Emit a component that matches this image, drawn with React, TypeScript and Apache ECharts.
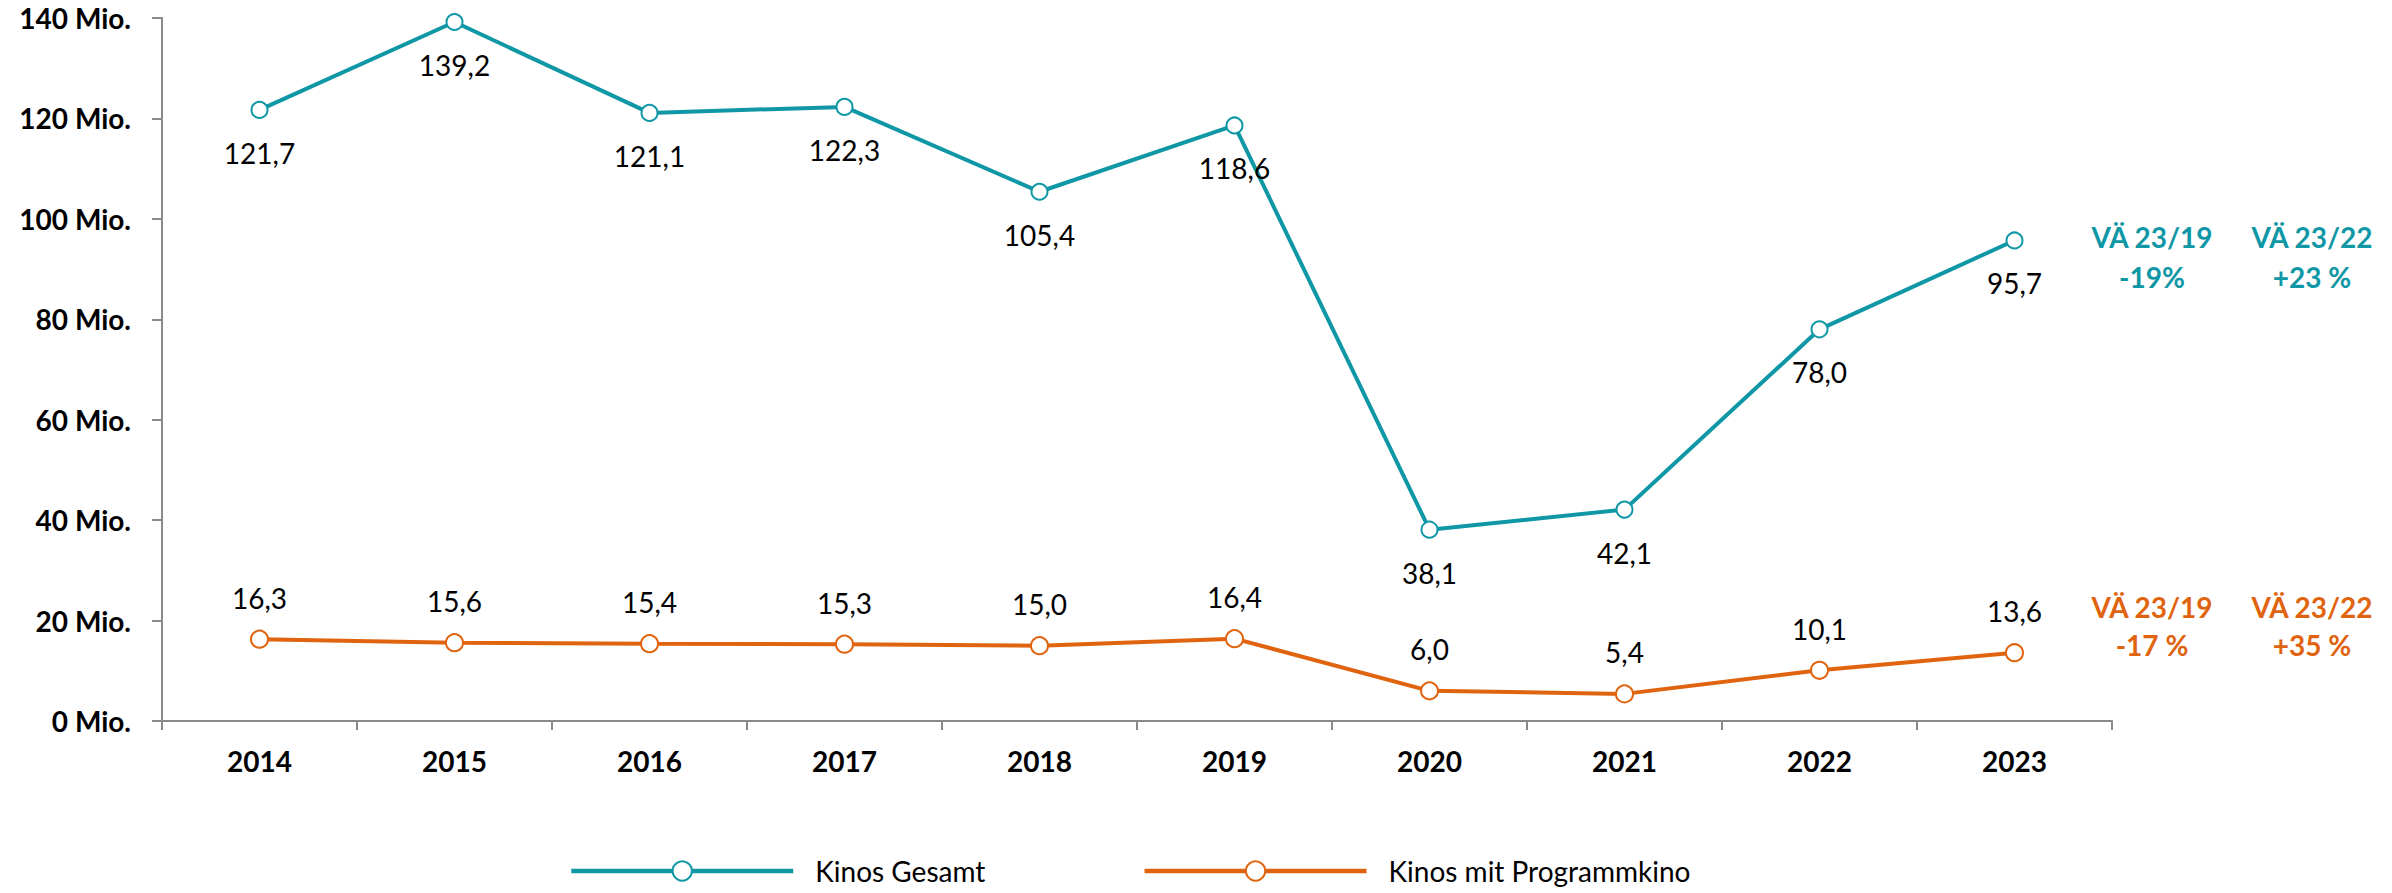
import React, { useEffect, useRef } from "react";
import * as echarts from "echarts";

const years = ["2014", "2015", "2016", "2017", "2018", "2019", "2020", "2021", "2022", "2023"];
const kinosGesamt = [121.7, 139.2, 121.1, 122.3, 105.4, 118.6, 38.1, 42.1, 78.0, 95.7];
const kinosProgramm = [16.3, 15.6, 15.4, 15.3, 15.0, 16.4, 6.0, 5.4, 10.1, 13.6];
const seriesNames = ["Kinos Gesamt", "Kinos mit Programmkino"];
const tealNotes = [
  ["VÄ 23/19", "-19%"],
  ["VÄ 23/22", "+23 %"],
];
const orangeNotes = [
  ["VÄ 23/19", "-17 %"],
  ["VÄ 23/22", "+35 %"],
];

const TEAL = "#0F97A5";
const ORANGE = "#E0640F";
const FONT = "Lato, 'Open Sans', sans-serif";

const fmt = (v: number) => v.toFixed(1).replace(".", ",");

export default function App() {
  const ref = useRef<HTMLDivElement>(null);
  useEffect(() => {
    if (!ref.current) return;
    const chart = echarts.init(ref.current, null, { renderer: "svg" });
    const noteText = (x: number, y: number, lines: string[], color: string, lh: number) => ({
      type: "text",
      x,
      y,
      style: {
        text: lines.join("\n"),
        fill: color,
        font: `bold 28px ${FONT}`,
        textAlign: "center",
        textVerticalAlign: "middle",
        lineHeight: lh,
      },
    });
    chart.setOption({
      animation: false,
      textStyle: { fontFamily: FONT },
      grid: { left: 162, right: 280, top: 18, bottom: 172, containLabel: false },
      legend: {
        bottom: 3,
        left: 564,
        itemWidth: 222,
        itemHeight: 24,
        itemGap: 157,
        lineStyle: { width: 4.5 },
        itemStyle: { borderWidth: 4 },
        textStyle: { fontSize: 28, fontFamily: FONT, color: "inherit", padding: [0, 0, 0, 17] },
        data: seriesNames,
      },
      xAxis: {
        type: "category",
        data: years,
        boundaryGap: true,
        axisLine: { lineStyle: { color: "#8A8A8A", width: 2 } },
        axisTick: { show: true, length: 9, lineStyle: { color: "#8A8A8A", width: 2 } },
        axisLabel: { fontSize: 28, fontWeight: "bold", color: "#000", margin: 26, fontFamily: FONT },
        splitLine: { show: false },
      },
      yAxis: {
        type: "value",
        min: 0,
        max: 140,
        interval: 20,
        axisLine: { show: true, lineStyle: { color: "#8A8A8A", width: 2 } },
        axisTick: { show: true, length: 10, lineStyle: { color: "#8A8A8A", width: 2 } },
        axisLabel: {
          fontSize: 28,
          fontWeight: "bold",
          color: "#000",
          margin: 31,
          fontFamily: FONT,
          formatter: (v: number) => `${v} Mio.`,
        },
        splitLine: { show: false },
      },
      series: [
        {
          name: seriesNames[0],
          type: "line",
          data: kinosGesamt,
          color: TEAL,
          symbol: "emptyCircle",
          symbolSize: 16,
          lineStyle: { width: 4, color: TEAL },
          itemStyle: { color: TEAL, borderWidth: 3, borderColor: TEAL },
          label: {
            show: true,
            position: "bottom",
            distance: 20,
            fontSize: 28,
            color: "#000",
            fontFamily: FONT,
            formatter: (p: any) => fmt(p.value),
          },
        },
        {
          name: seriesNames[1],
          type: "line",
          data: kinosProgramm,
          color: ORANGE,
          symbol: "emptyCircle",
          symbolSize: 17,
          lineStyle: { width: 4, color: ORANGE },
          itemStyle: { color: ORANGE, borderWidth: 2.5, borderColor: ORANGE },
          label: {
            show: true,
            position: "top",
            distance: 18,
            fontSize: 28,
            color: "#000",
            fontFamily: FONT,
            formatter: (p: any) => fmt(p.value),
          },
        },
      ],
      graphic: [
        noteText(2152, 257, tealNotes[0], TEAL, 40),
        noteText(2312, 257, tealNotes[1], TEAL, 40),
        noteText(2152, 626, orangeNotes[0], ORANGE, 38),
        noteText(2312, 626, orangeNotes[1], ORANGE, 38),
      ],
    });
    return () => chart.dispose();
  }, []);
  return (
    <div
      ref={ref}
      style={{ position: "fixed", left: 0, top: 0, width: 2392, height: 893, background: "#fff" }}
    />
  );
}
